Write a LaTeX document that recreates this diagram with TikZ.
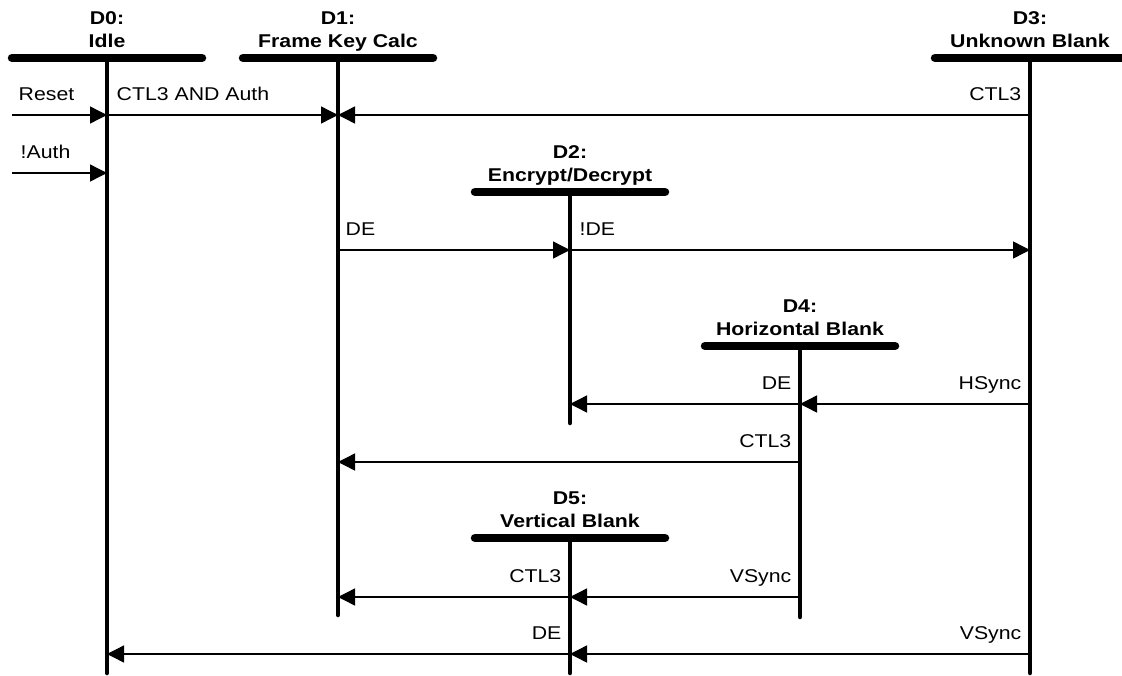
\documentclass[tikz,border=0pt]{standalone}
\usepackage{fontspec}
\setmainfont{Liberation Sans}[FakeStretch=1.15]
\usetikzlibrary{positioning,arrows.meta}

\begin{document}
\begin{tikzpicture}
                    [x=1pt,y=-1pt,>={Triangle[length=17pt,width=17pt]},
                    title/.style={font=\fontsize{18.5}{23}\selectfont\bfseries,align=center,anchor=base,inner sep=0pt},
                    label/.style={font=\fontsize{18.5}{23}\selectfont,inner sep=0pt},
                    bar/.style={line width=8.5pt,line cap=round},
                    life/.style={line width=4.5pt,line cap=round},
                    msg/.style={line width=1.4pt,->},
                    tor/.style={label,pos=0,anchor=base west,xshift=9pt,yshift=15pt},
                    tol/.style={label,pos=0,anchor=base east,xshift=-8pt,yshift=15pt}]

                \useasboundingbox (0,0) rectangle (1122,675);

                % states: bar, lifeline and name
                \foreach \n/\x/\y/\e/\t in {d0/107/58/673/{D0:\\Idle},
                                            d1/338/58/615/{D1:\\Frame Key Calc},
                                            d2/570/192/423/{D2:\\Encrypt/Decrypt},
                                            d3/1030/58/673/{D3:\\Unknown Blank},
                                            d4/800/346/617/{D4:\\Horizontal Blank},
                                            d5/570/538/673/{D5:\\Vertical Blank}}
                {
                    \coordinate (\n) at (\x,\y);
                    \coordinate (\n-end) at (\x,\e);
                    \draw[bar] ([xshift=-95pt]\n) -- ([xshift=95pt]\n);
                    \draw[life] (\n) -- (\n-end);
                    \node[title] (\n-name) at ([yshift=11pt]\n) {\t};
                }

                % message rows
                \coordinate (r1) at (0,115);
                \coordinate (r2) at (0,173);
                \coordinate (r3) at (0,250);
                \coordinate (r4) at (0,404);
                \coordinate (r5) at (0,462);
                \coordinate (r6) at (0,597);
                \coordinate (r7) at (0,654);
                \coordinate (reset) at (12,115);
                \coordinate (noauth) at (12,173);

                \draw[msg] (reset) -- (d0 |- r1) node[tor,xshift=-3pt] {Reset};
                \draw[msg] (d0 |- r1) -- (d1 |- r1) node[tor] {CTL3 AND Auth};
                \draw[msg] (d3 |- r1) -- (d1 |- r1) node[tol] {CTL3};
                \draw[msg] (noauth) -- (d0 |- r2) node[tor,xshift=-1pt] {!Auth};

                \draw[msg] (d1 |- r3) -- (d2 |- r3) node[tor,xshift=-2pt] {DE};
                \draw[msg] (d2 |- r3) -- (d3 |- r3) node[tor] {!DE};

                \draw[msg] (d3 |- r4) -- (d4 |- r4) node[tol] {HSync};
                \draw[msg] (d4 |- r4) -- (d2 |- r4) node[tol] {DE};
                \draw[msg] (d4 |- r5) -- (d1 |- r5) node[tol] {CTL3};

                \draw[msg] (d4 |- r6) -- (d5 |- r6) node[tol] {VSync};
                \draw[msg] (d5 |- r6) -- (d1 |- r6) node[tol] {CTL3};
                \draw[msg] (d3 |- r7) -- (d5 |- r7) node[tol] {VSync};
                \draw[msg] (d5 |- r7) -- (d0 |- r7) node[tol] {DE};

                \end{tikzpicture}
\end{document}
